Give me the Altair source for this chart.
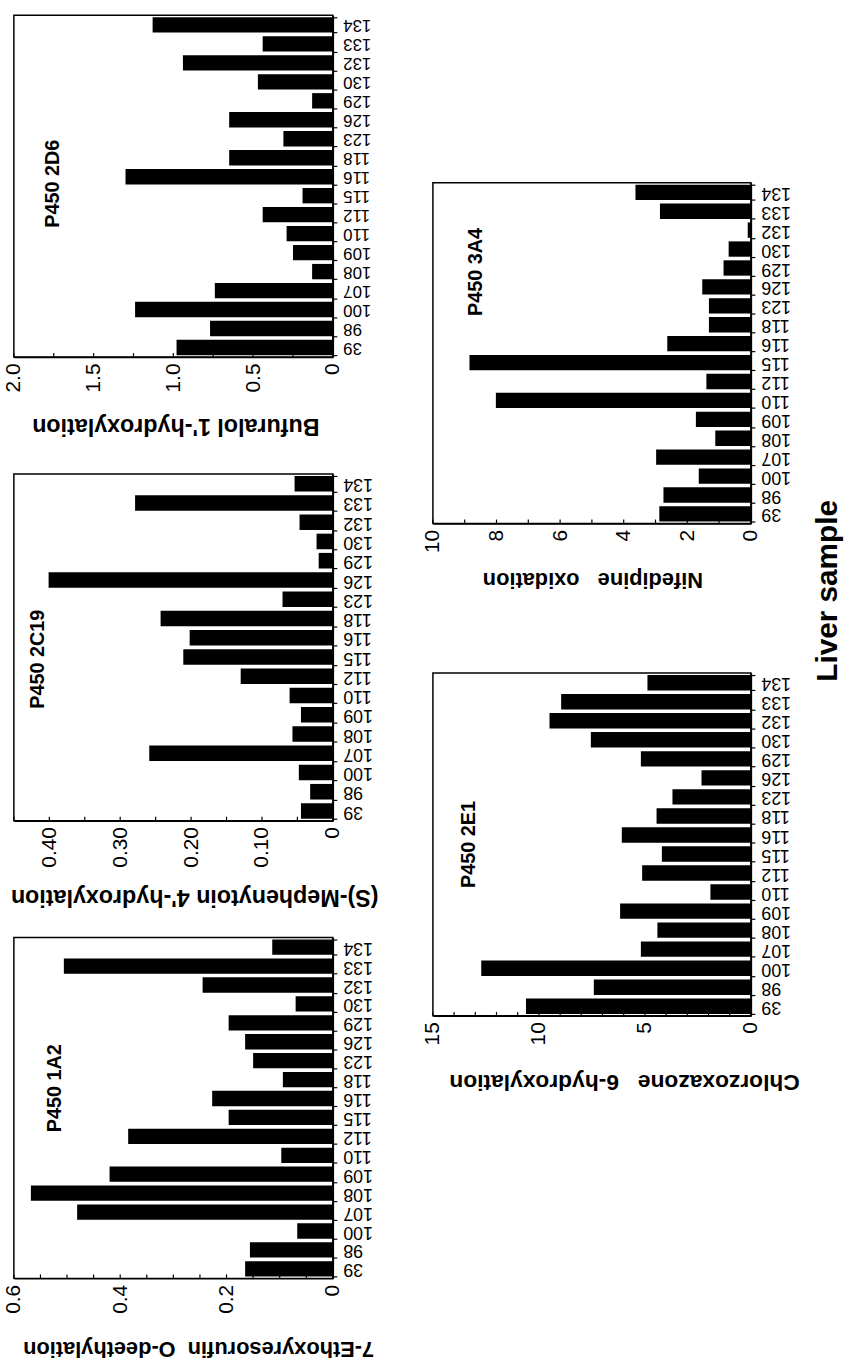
import altair as alt
import pandas as pd

FONT = "Liberation Sans"

samples = ["39", "98", "100", "107", "108", "109", "110", "112", "115",
           "116", "118", "123", "126", "129", "130", "132", "133", "134"]

# 7-Ethoxyresorufin O-deethylation (P450 1A2)
cyp1a2 = [0.165, 0.156, 0.067, 0.481, 0.568, 0.420, 0.097, 0.385, 0.196,
          0.227, 0.094, 0.150, 0.165, 0.196, 0.070, 0.245, 0.506, 0.114]
# (S)-Mephenytoin 4'-hydroxylation (P450 2C19)
cyp2c19 = [0.045, 0.032, 0.048, 0.259, 0.057, 0.045, 0.061, 0.130, 0.211,
           0.202, 0.243, 0.071, 0.401, 0.020, 0.023, 0.047, 0.279, 0.054]
# Bufuralol 1'-hydroxylation (P450 2D6)
cyp2d6 = [0.98, 0.77, 1.24, 0.74, 0.13, 0.25, 0.29, 0.44, 0.19,
          1.30, 0.65, 0.31, 0.65, 0.13, 0.47, 0.94, 0.44, 1.13]
# Chlorzoxazone 6-hydroxylation (P450 2E1)
cyp2e1 = [10.61, 7.41, 12.72, 5.19, 4.41, 6.17, 1.91, 5.13, 4.20,
          6.09, 4.45, 3.70, 2.33, 5.19, 7.55, 9.50, 8.95, 4.88]
# Nifedipine oxidation (P450 3A4)
cyp3a4 = [2.88, 2.75, 1.64, 2.98, 1.12, 1.73, 8.02, 1.40, 8.85,
          2.63, 1.32, 1.32, 1.53, 0.86, 0.70, 0.10, 2.86, 3.63]

ticks_2d6 = [0, 0.25, 0.5, 0.75, 1.0, 1.25, 1.5, 1.75, 2.0]
ticks_2c19 = [0, 0.05, 0.10, 0.15, 0.20, 0.25, 0.30, 0.35, 0.40, 0.45]
ticks_1a2 = [0, 0.05, 0.10, 0.15, 0.20, 0.25, 0.30, 0.35, 0.40, 0.45, 0.50, 0.55, 0.60]
ticks_3a4 = [0, 1, 2, 3, 4, 5, 6, 7, 8, 9, 10]
ticks_2e1 = [0, 1, 2, 3, 4, 5, 6, 7, 8, 9, 10, 11, 12, 13, 14, 15]

NB = "\u00a0"


def panel(values, label, title, dmax, axis_vals, fmt, minor, w, h,
          cat_fs, lab_x, lab_y, title_x, title_y, title_fs=22, extra=None):
    df = pd.DataFrame({"sample": samples, "value": values})
    xscale = alt.Scale(domain=[0, dmax], reverse=True, nice=False, zero=True)
    expr = "datum.value == 0 ? '0' : format(datum.value, '%s')" % fmt
    xaxis = alt.Axis(values=axis_vals, labelExpr=expr, labelAngle=270,
                     labelAlign="right", labelBaseline="middle",
                     labelFontSize=21, labelPadding=6, labelFlush=False,
                     labelOverlap=False, ticks=False, tickSize=0,
                     domainColor="black", domainWidth=1.5,
                     title=title, titleAngle=180, titleFontSize=title_fs,
                     titleFontWeight="bold", titleAlign="center",
                     titleBaseline="middle", titleX=title_x, titleY=title_y)
    bars = alt.Chart(df).mark_bar(color="black").encode(
        x=alt.X("value:Q", scale=xscale, axis=xaxis, title=title),
        y=alt.Y("sample:N", sort=list(reversed(samples)),
                scale=alt.Scale(paddingInner=0.19, paddingOuter=0.1),
                axis=alt.Axis(orient="right", title=None, labelAngle=180,
                              labelAlign="right", labelBaseline="middle",
                              labelFontSize=cat_fs, labelPadding=6, labelOverlap=False,
                              tickSize=4, tickBand="extent", tickColor="black",
                              tickWidth=1.2, domainColor="black", domainWidth=1.5)),
    )
    tick_layer = alt.Chart(pd.DataFrame({"value": minor})).mark_rule(
        color="black", strokeWidth=1.2).encode(
        x=alt.X("value:Q", scale=xscale, axis=xaxis, title=title),
        y=alt.value(h), y2=alt.value(h - 4))
    lab = alt.Chart(pd.DataFrame({"label": [label]})).mark_text(
        angle=270, fontSize=20, fontWeight="bold", align="center",
        baseline="middle", color="black").encode(
        text="label:N", x=alt.value(lab_x), y=alt.value(lab_y))
    layers = [bars, tick_layer, lab] + (extra or [])
    return alt.layer(*layers).properties(width=w, height=h)


p2d6 = panel(cyp2d6, "P450 2D6", "Bufuralol 1'-hydroxylation", 2.0,
             [0, 0.5, 1.0, 1.5, 2.0], ".1f", ticks_2d6, 322, 345,
             17, 40, 170, 163, 69, title_fs=23.5)
p2c19 = panel(cyp2c19, "P450 2C19", "(S)-Mephenytoin 4'-hydroxylation", 0.45,
              [0, 0.1, 0.2, 0.3, 0.4], ".2f", ticks_2c19, 322, 350,
              18, 24, 187, 182, 76, title_fs=23.5)
p1a2 = panel(cyp1a2, "P450 1A2", "7-Ethoxyresorufin" + NB * 2 + "O-deethylation", 0.6,
             [0, 0.2, 0.4, 0.6], ".1f", ticks_1a2, 322, 344,
             18, 42, 152, 186, 71)

liver = alt.Chart(pd.DataFrame({"t": ["Liver sample"]})).mark_text(
    angle=270, fontSize=30, fontWeight="bold", align="center",
    baseline="middle", color="black").encode(
    text="t:N", x=alt.value(399), y=alt.value(412))

p3a4 = panel(cyp3a4, "P450 3A4", "Nifedipine" + NB * 3 + "oxidation", 10,
             [0, 2, 4, 6, 8, 10], "d", ticks_3a4, 321, 344,
             18, 44, 90, 161, 56, extra=[liver])
p2e1 = panel(cyp2e1, "P450 2E1", "Chlorzoxazone" + NB * 3 + "6-hydroxylation", 15,
             [0, 5, 10, 15], "d", ticks_2e1, 321, 346,
             18, 36, 173, 193, 66, title_fs=23)

spacer = alt.Chart(pd.DataFrame({"a": [0]})).mark_rule(color="white", opacity=0.01).encode(
    x=alt.value(0), x2=alt.value(1), y=alt.value(0)
).properties(width=321, height=18, view=alt.ViewBackground(stroke="transparent"))

left = alt.vconcat(p2d6, p2c19, p1a2, spacing=118, bounds="flush")
right = alt.vconcat(spacer, p3a4, p2e1, spacing=151, bounds="flush")

chart = alt.hconcat(left, right, spacing=42).properties(
    padding={"left": 2, "top": 0, "right": 2, "bottom": 0}
).configure(font=FONT).configure_view(
    stroke="black", strokeWidth=1.5
).configure_axis(grid=False, labelColor="black", titleColor="black")

chart.save("out.html", embed_options={"renderer": "svg", "actions": False})
